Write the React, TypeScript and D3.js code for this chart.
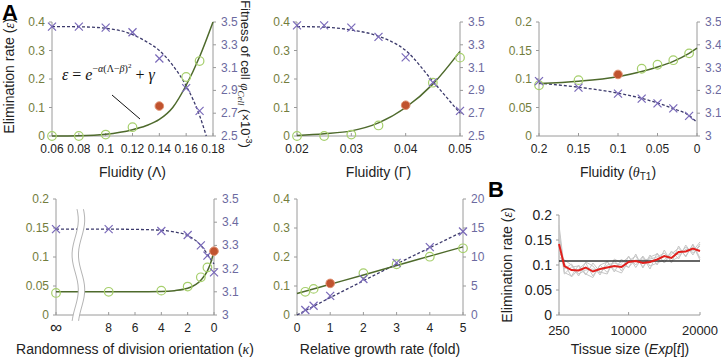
import * as d3 from "d3";
import React from "react";

// ---- panel A1: fluidity (Lambda)
const L_X = [0.06, 0.08, 0.1, 0.12, 0.14, 0.16, 0.17];
const L_ELIM = [0, 0, 0.005, 0.031, 0.105, 0.207, 0.263];
const L_FIT = [3.46, 3.46, 3.45, 3.41, 3.18, 2.92, 2.72];
const L_REF = 0.14;
const L_ELIM_CURVE_X = [0.06, 0.08, 0.1, 0.12, 0.13, 0.14, 0.15, 0.16, 0.17, 0.18];
const L_ELIM_CURVE = [0, 0.001, 0.006, 0.022, 0.036, 0.058, 0.1, 0.178, 0.278, 0.4];
const L_FIT_CURVE_X = [0.06, 0.08, 0.1, 0.12, 0.13, 0.14, 0.15, 0.16, 0.17, 0.175];
const L_FIT_CURVE = [3.46, 3.458, 3.445, 3.39, 3.33, 3.25, 3.12, 2.94, 2.68, 2.5];
const L_TICKS = [0.06, 0.08, 0.1, 0.12, 0.14, 0.16, 0.18];

// ---- panel A2: fluidity (Gamma)
const G_X = [0.02, 0.025, 0.03, 0.035, 0.04, 0.045, 0.05];
const G_ELIM = [0, 0, 0.005, 0.037, 0.108, 0.187, 0.275];
const G_FIT = [3.47, 3.47, 3.45, 3.37, 3.19, 2.97, 2.72];
const G_REF = 0.04;
const G_ELIM_CURVE = [0.002, 0.008, 0.018, 0.046, 0.1, 0.182, 0.297];
const G_FIT_CURVE = [3.46, 3.455, 3.43, 3.375, 3.25, 2.98, 2.7];
const G_TICKS = [0.02, 0.03, 0.04, 0.05];

// ---- panel A3: fluidity (theta T1)
const T_X = [0.2, 0.15, 0.1, 0.07, 0.05, 0.03, 0.01];
const T_ELIM = [0.089, 0.098, 0.108, 0.118, 0.125, 0.133, 0.145];
const T_FIT = [3.241, 3.212, 3.186, 3.164, 3.143, 3.121, 3.088];
const T_REF = 0.1;
const T_CURVE_X = [0.2, 0.15, 0.1, 0.07, 0.05, 0.03, 0.01, 0];
const T_ELIM_CURVE = [0.092, 0.096, 0.104, 0.113, 0.121, 0.131, 0.145, 0.154];
const T_FIT_CURVE = [3.232, 3.214, 3.188, 3.165, 3.145, 3.12, 3.09, 3.06];
const T_TICKS = [0.2, 0.15, 0.1, 0.05, 0];

// ---- panel A4: randomness of division orientation (kappa); infinity drawn at INF_POS
const INF_POS = 12;
const K_X = [Infinity, 8, 4, 2, 1, 0.5, 0];
const K_ELIM = [0.038, 0.04, 0.042, 0.049, 0.065, 0.082, 0.11];
const K_FIT = [3.37, 3.37, 3.362, 3.345, 3.3, 3.256, 3.184];
const K_REF = 0;
const K_CURVE_X = [Infinity, 8, 6, 4, 3, 2, 1, 0.5, 0.25, 0];
const K_ELIM_CURVE = [0.04, 0.04, 0.04, 0.0405, 0.042, 0.046, 0.06, 0.076, 0.09, 0.11];
const K_FIT_CURVE = [3.37, 3.37, 3.369, 3.365, 3.358, 3.342, 3.3, 3.262, 3.24, 3.22];
const K_TICKS = [Infinity, 8, 6, 4, 2, 0];

// ---- panel A5: relative growth rate
const R_X = [0.25, 0.5, 1, 2, 3, 4, 5];
const R_ELIM = [0.08, 0.09, 0.109, 0.144, 0.175, 0.201, 0.23];
const R_FIT = [0.86, 1.6, 3.3, 6.2, 9.0, 11.7, 14.4];
const R_REF = 1;
const R_CURVE_X = [0, 1, 2, 3, 4, 5];
const R_ELIM_CURVE = [0.074, 0.106, 0.138, 0.171, 0.203, 0.235];
const R_FIT_CURVE = [0, 3.0, 5.9, 8.8, 11.6, 14.4];
const R_TICKS = [0, 1, 2, 3, 4, 5];

// ---- panel B: tissue size
const B_SIZE = [250, 1000, 2000, 3000, 4000, 5000, 6000, 7000, 8000, 9000, 10000, 11000, 12000, 13000, 14000, 15000, 16000, 17000, 18000, 19000, 20000];
const B_MEAN = [0.142, 0.098, 0.09, 0.089, 0.095, 0.087, 0.092, 0.095, 0.098, 0.096, 0.106, 0.108, 0.104, 0.106, 0.111, 0.118, 0.114, 0.126, 0.127, 0.133, 0.128];
const B_RUNS = [
  [0.17, 0.085, 0.078, 0.1, 0.082, 0.075, 0.1, 0.085, 0.11, 0.088, 0.118, 0.095, 0.116, 0.092, 0.124, 0.104, 0.128, 0.112, 0.14, 0.12, 0.142],
  [0.125, 0.11, 0.1, 0.078, 0.106, 0.098, 0.08, 0.108, 0.086, 0.112, 0.094, 0.122, 0.094, 0.12, 0.1, 0.13, 0.104, 0.138, 0.116, 0.142, 0.114],
  [0.155, 0.082, 0.096, 0.098, 0.08, 0.104, 0.086, 0.082, 0.112, 0.104, 0.116, 0.1, 0.118, 0.098, 0.104, 0.11, 0.126, 0.12, 0.136, 0.124, 0.138],
  [0.118, 0.104, 0.076, 0.092, 0.104, 0.078, 0.1, 0.106, 0.09, 0.084, 0.108, 0.118, 0.096, 0.116, 0.122, 0.104, 0.122, 0.134, 0.118, 0.14, 0.11],
  [0.18, 0.092, 0.102, 0.082, 0.09, 0.092, 0.084, 0.1, 0.104, 0.1, 0.096, 0.11, 0.11, 0.112, 0.116, 0.124, 0.108, 0.116, 0.132, 0.128, 0.146],
];
const B_TARGET = 0.108;
const B_TICKS = [250, 10000, 20000];

const FONT = "'Liberation Sans', Arial, sans-serif";
const SERIF = "'Liberation Serif', 'Times New Roman', serif";
const OLIVE = "#737d3d";
const PURPLE = "#6c6aa0";
const GREEN_LINE = "#4e6a2c";
const CIRCLE = "#a6cf6c";
const XMARK = "#7868b8";
const DASH = "#3c3a6c";
const RED = "#c0532f";
const AXIS = "#9a9a9a";

type Box = { left: number; right: number; top: number; bottom: number };

type PanelProps = {
  box: Box;
  x: (v: number) => number;
  xTicks: number[];
  xLabel: (v: number) => string;
  left: d3.ScaleLinear<number, number>;
  leftTicks: number[];
  leftFmt: (v: number) => string;
  right: d3.ScaleLinear<number, number>;
  rightTicks: number[];
  rightFmt: (v: number) => string;
  pts: number[];
  elim: number[];
  fit: number[];
  refX: number;
  elimCurveX: number[];
  elimCurve: number[];
  fitCurveX: number[];
  fitCurve: number[];
  xTitle: React.ReactNode;
  titleY: number;
  children?: React.ReactNode;
};

function XMark({ cx, cy }: { cx: number; cy: number }) {
  const s = 4;
  return (
    <g stroke={XMARK} strokeWidth={1.2}>
      <line x1={cx - s} y1={cy - s} x2={cx + s} y2={cy + s} />
      <line x1={cx - s} y1={cy + s} x2={cx + s} y2={cy - s} />
    </g>
  );
}

function Panel(p: PanelProps) {
  const { box, x, left, right } = p;
  const solid = d3
    .line<number>()
    .x((_, i) => x(p.elimCurveX[i]))
    .y((d) => left(d))
    .curve(d3.curveMonotoneX);
  const dashed = d3
    .line<number>()
    .x((_, i) => x(p.fitCurveX[i]))
    .y((d) => right(d))
    .curve(d3.curveMonotoneX);
  return (
    <g fontFamily={FONT}>
      <line x1={box.left} x2={box.left} y1={box.top} y2={box.bottom} stroke={AXIS} />
      <line x1={box.right} x2={box.right} y1={box.top} y2={box.bottom} stroke={AXIS} />
      <line x1={box.left} x2={box.right} y1={box.bottom} y2={box.bottom} stroke={AXIS} />
      {p.leftTicks.map((t) => (
        <g key={"l" + t}>
          <line x1={box.left - 3} x2={box.left} y1={left(t)} y2={left(t)} stroke={AXIS} />
          <text x={box.left - 7} y={left(t) + 4} textAnchor="end" fontSize={12} fill={OLIVE}>
            {p.leftFmt(t)}
          </text>
        </g>
      ))}
      {p.rightTicks.map((t) => (
        <g key={"r" + t}>
          <line x1={box.right} x2={box.right + 3} y1={right(t)} y2={right(t)} stroke={AXIS} />
          <text x={box.right + 8} y={right(t) + 4} fontSize={12} fill={PURPLE}>
            {p.rightFmt(t)}
          </text>
        </g>
      ))}
      {p.xTicks.map((t) => (
        <g key={"x" + t}>
          <line x1={x(t)} x2={x(t)} y1={box.bottom} y2={box.bottom - 3} stroke={AXIS} />
          <text x={x(t)} y={box.bottom + 17} textAnchor="middle" fontSize={12} fill="#222">
            {p.xLabel(t)}
          </text>
        </g>
      ))}
      <path d={dashed(p.fitCurve) ?? ""} fill="none" stroke={DASH} strokeWidth={1.3} strokeDasharray="3,2" />
      <path d={solid(p.elimCurve) ?? ""} fill="none" stroke={GREEN_LINE} strokeWidth={1.5} />
      {p.pts.map((v, i) =>
        v === p.refX ? null : (
          <circle key={"c" + i} cx={x(v)} cy={left(p.elim[i])} r={4.3} fill="none" stroke={CIRCLE} strokeWidth={1.2} />
        )
      )}
      {p.pts.map((v, i) => (
        <XMark key={"m" + i} cx={x(v)} cy={right(p.fit[i])} />
      ))}
      {p.pts.map((v, i) =>
        v === p.refX ? (
          <circle key={"r" + i} cx={x(v)} cy={left(p.elim[i])} r={4.3} fill={RED} stroke="#e09070" strokeWidth={1} />
        ) : null
      )}
      {p.children}
      <text x={(box.left + box.right) / 2} y={p.titleY} textAnchor="middle" fontSize={14} fill="#222">
        {p.xTitle}
      </text>
    </g>
  );
}

const f1 = (v: number) => (v === 0 ? "0" : String(+v.toFixed(2)));
const f2 = (v: number) => v.toFixed(1);

export default function App() {
  // A1
  const b1 = { left: 52, right: 213, top: 22, bottom: 136 };
  const x1 = d3.scaleLinear().domain([0.06, 0.18]).range([b1.left, b1.right]);
  const l1 = d3.scaleLinear().domain([0, 0.4]).range([b1.bottom, b1.top]);
  const r1 = d3.scaleLinear().domain([2.5, 3.5]).range([b1.bottom, b1.top]);
  // A2
  const b2 = { left: 297, right: 460, top: 22, bottom: 136 };
  const x2 = d3.scaleLinear().domain([0.02, 0.05]).range([b2.left, b2.right]);
  const l2 = d3.scaleLinear().domain([0, 0.4]).range([b2.bottom, b2.top]);
  const r2 = d3.scaleLinear().domain([2.5, 3.5]).range([b2.bottom, b2.top]);
  // A3
  const b3 = { left: 539, right: 697, top: 22, bottom: 136 };
  const x3 = d3.scaleLinear().domain([0.2, 0]).range([b3.left, b3.right]);
  const l3 = d3.scaleLinear().domain([0, 0.2]).range([b3.bottom, b3.top]);
  const r3 = d3.scaleLinear().domain([3, 3.5]).range([b3.bottom, b3.top]);
  // A4
  const b4 = { left: 56, right: 214, top: 199, bottom: 315 };
  const x4raw = d3.scaleLinear().domain([INF_POS, 0]).range([b4.left, b4.right]);
  const x4 = (v: number) => x4raw(Number.isFinite(v) ? v : INF_POS);
  const l4 = d3.scaleLinear().domain([0, 0.2]).range([b4.bottom, b4.top]);
  const r4 = d3.scaleLinear().domain([3, 3.5]).range([b4.bottom, b4.top]);
  // A5
  const b5 = { left: 297, right: 463, top: 199, bottom: 315 };
  const x5 = d3.scaleLinear().domain([0, 5]).range([b5.left, b5.right]);
  const l5 = d3.scaleLinear().domain([0, 0.4]).range([b5.bottom, b5.top]);
  const r5 = d3.scaleLinear().domain([0, 20]).range([b5.bottom, b5.top]);
  // B
  const bB = { left: 559, right: 700, top: 215, bottom: 315 };
  const xB = d3.scaleLinear().domain([250, 20000]).range([bB.left, bB.right]);
  const yB = d3.scaleLinear().domain([0, 0.2]).range([bB.bottom, bB.top]);
  const lineB = d3
    .line<number>()
    .x((_, i) => xB(B_SIZE[i]))
    .y((d) => yB(d));

  // axis break decoration
  const breakX = x4raw(10.3);
  const wave = (off: number) => {
    const pts: [number, number][] = [];
    for (let yy = 209; yy <= 321; yy += 4) {
      const t = (yy - 209) / 112;
      pts.push([breakX + off + 3.2 * Math.sin(t * Math.PI * 3.2 + 0.6), yy]);
    }
    return pts;
  };
  const w1 = wave(-3.2);
  const w2 = wave(3.2);
  const waveLine = d3.line().curve(d3.curveBasis);
  const waveArea = d3
    .area<[number, number]>()
    .y((d) => d[1])
    .x0((d) => d[0])
    .x1((_, i) => w2[i][0])
    .curve(d3.curveBasis);

  return (
    <svg width={721} height={358} style={{ position: "absolute", left: 0, top: 0, background: "#fff" }}>
      <rect width={721} height={358} fill="#fff" />
      <text x={2} y={20} fontFamily={FONT} fontWeight="bold" fontSize={22}>
        A
      </text>
      <text x={488} y={197} fontFamily={FONT} fontWeight="bold" fontSize={22}>
        B
      </text>

      {/* A1 */}
      <Panel
        box={b1} x={x1} xTicks={L_TICKS} xLabel={f1}
        left={l1} leftTicks={[0, 0.1, 0.2, 0.3, 0.4]} leftFmt={f1}
        right={r1} rightTicks={[2.5, 2.7, 2.9, 3.1, 3.3, 3.5]} rightFmt={f2}
        pts={L_X} elim={L_ELIM} fit={L_FIT} refX={L_REF}
        elimCurveX={L_ELIM_CURVE_X} elimCurve={L_ELIM_CURVE}
        fitCurveX={L_FIT_CURVE_X} fitCurve={L_FIT_CURVE}
        xTitle={<>Fluidity (Λ)</>} titleY={177}
      >
        <text x={62} y={80} fontFamily={SERIF} fontSize={16} fill="#111">
          <tspan fontStyle="italic">ε</tspan> = <tspan fontStyle="italic">e</tspan>
          <tspan dy={-8} fontSize={10}>
            −<tspan fontStyle="italic">α</tspan>(Λ−<tspan fontStyle="italic">β</tspan>)
          </tspan>
          <tspan dy={-4} fontSize={7}>2</tspan>
          <tspan dy={12} fontSize={16}> + </tspan>
          <tspan fontStyle="italic" fontSize={16}>γ</tspan>
        </text>
        <line x1={112} y1={95} x2={140} y2={119} stroke="#111" strokeWidth={1} />
      </Panel>
      <text
        transform="translate(14 76) rotate(-90)"
        textAnchor="middle" fontFamily={FONT} fontSize={14} fill="#222"
      >
        Elimination rate (<tspan fontFamily={SERIF} fontStyle="italic">ε</tspan>)
      </text>
      <text
        transform="translate(241 74) rotate(90)"
        textAnchor="middle" fontFamily={FONT} fontSize={13} fill="#222"
      >
        Fitness of cell <tspan fontFamily={SERIF} fontStyle="italic">φ</tspan>
        <tspan fontFamily={SERIF} fontStyle="italic" fontSize={9} dy={3}>Cell</tspan>
        <tspan dy={-3}> (×10</tspan>
        <tspan fontSize={9} dy={-5}>-3</tspan>
        <tspan dy={5}>)</tspan>
      </text>

      {/* A2 */}
      <Panel
        box={b2} x={x2} xTicks={G_TICKS} xLabel={f1}
        left={l2} leftTicks={[0, 0.1, 0.2, 0.3, 0.4]} leftFmt={f1}
        right={r2} rightTicks={[2.5, 2.7, 2.9, 3.1, 3.3, 3.5]} rightFmt={f2}
        pts={G_X} elim={G_ELIM} fit={G_FIT} refX={G_REF}
        elimCurveX={G_X} elimCurve={G_ELIM_CURVE}
        fitCurveX={G_X} fitCurve={G_FIT_CURVE}
        xTitle={<>Fluidity (Γ)</>} titleY={177}
      />

      {/* A3 */}
      <Panel
        box={b3} x={x3} xTicks={T_TICKS} xLabel={f1}
        left={l3} leftTicks={[0, 0.05, 0.1, 0.15, 0.2]} leftFmt={f1}
        right={r3} rightTicks={[3, 3.1, 3.2, 3.3, 3.4, 3.5]} rightFmt={(v) => (v === 3 ? "3" : v.toFixed(1))}
        pts={T_X} elim={T_ELIM} fit={T_FIT} refX={T_REF}
        elimCurveX={T_CURVE_X} elimCurve={T_ELIM_CURVE}
        fitCurveX={T_CURVE_X} fitCurve={T_FIT_CURVE}
        xTitle={
          <>
            Fluidity (<tspan fontFamily={SERIF} fontStyle="italic">θ</tspan>
            <tspan fontSize={10} dy={3}>T1</tspan>
            <tspan dy={-3}>)</tspan>
          </>
        }
        titleY={177}
      />

      {/* A4 */}
      <Panel
        box={b4} x={x4} xTicks={K_TICKS} xLabel={(v) => (Number.isFinite(v) ? String(v) : "")}
        left={l4} leftTicks={[0, 0.05, 0.1, 0.15, 0.2]} leftFmt={f1}
        right={r4} rightTicks={[3, 3.1, 3.2, 3.3, 3.4, 3.5]} rightFmt={(v) => (v === 3 ? "3" : v.toFixed(1))}
        pts={K_X} elim={K_ELIM} fit={K_FIT} refX={K_REF}
        elimCurveX={K_CURVE_X} elimCurve={K_ELIM_CURVE}
        fitCurveX={K_CURVE_X} fitCurve={K_FIT_CURVE}
        xTitle={
          <>
            Randomness of division orientation (<tspan fontFamily={SERIF} fontStyle="italic">κ</tspan>)
          </>
        }
        titleY={354}
      >
        <path d={waveArea(w1) ?? ""} fill="#fff" />
        <path d={waveLine(w1) ?? ""} fill="none" stroke="#aaa" strokeWidth={0.9} />
        <path d={waveLine(w2) ?? ""} fill="none" stroke="#aaa" strokeWidth={0.9} />
        <text x={x4(Infinity)} y={b4.bottom + 18} textAnchor="middle" fontFamily={FONT} fontSize={17} fill="#222">
          ∞
        </text>
      </Panel>

      {/* A5 */}
      <Panel
        box={b5} x={x5} xTicks={R_TICKS} xLabel={(v) => String(v)}
        left={l5} leftTicks={[0, 0.1, 0.2, 0.3, 0.4]} leftFmt={f1}
        right={r5} rightTicks={[0, 5, 10, 15, 20]} rightFmt={(v) => String(v)}
        pts={R_X} elim={R_ELIM} fit={R_FIT} refX={R_REF}
        elimCurveX={R_CURVE_X} elimCurve={R_ELIM_CURVE}
        fitCurveX={R_CURVE_X} fitCurve={R_FIT_CURVE}
        xTitle={<>Relative growth rate (fold)</>} titleY={354}
      />

      {/* B */}
      <g fontFamily={FONT}>
        <line x1={bB.left} x2={bB.left} y1={bB.top} y2={bB.bottom} stroke={AXIS} />
        <line x1={bB.left} x2={bB.right} y1={bB.bottom} y2={bB.bottom} stroke={AXIS} />
        {[0, 0.05, 0.1, 0.15, 0.2].map((t) => (
          <g key={t}>
            <line x1={bB.left - 3} x2={bB.left} y1={yB(t)} y2={yB(t)} stroke={AXIS} />
            <text x={bB.left - 7} y={yB(t) + 5} textAnchor="end" fontSize={14} fill="#222">
              {f1(t)}
            </text>
          </g>
        ))}
        {B_TICKS.map((t) => (
          <g key={t}>
            <line x1={xB(t)} x2={xB(t)} y1={bB.bottom} y2={bB.bottom - 3} stroke={AXIS} />
            <text x={xB(t)} y={bB.bottom + 20} textAnchor="middle" fontSize={13} fill="#222">
              {t}
            </text>
          </g>
        ))}
        {B_RUNS.map((run, i) => (
          <path key={i} d={lineB(run) ?? ""} fill="none" stroke="#c6c6c6" strokeWidth={1} />
        ))}
        <line x1={bB.left} x2={bB.right} y1={yB(B_TARGET)} y2={yB(B_TARGET)} stroke="#333" strokeWidth={1.5} />
        <path d={lineB(B_MEAN) ?? ""} fill="none" stroke="#e11f1c" strokeWidth={2} />
        <text x={630} y={354} textAnchor="middle" fontSize={14} fill="#222">
          Tissue size (<tspan fontStyle="italic">Exp</tspan>[<tspan fontStyle="italic">t</tspan>])
        </text>
        <text transform="translate(512 265) rotate(-90)" textAnchor="middle" fontSize={14} fill="#222">
          Elimination rate (<tspan fontFamily={SERIF} fontStyle="italic">ε</tspan>)
        </text>
      </g>
    </svg>
  );
}
